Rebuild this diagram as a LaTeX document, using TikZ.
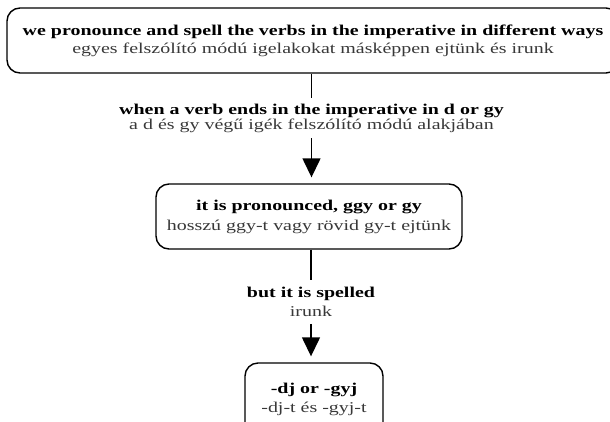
\documentclass[tikz,border=0pt]{standalone}
\usepackage{fontspec}
\setmainfont{Liberation Serif}
\usetikzlibrary{arrows.meta}
\definecolor{subtext}{HTML}{383838}
\tikzset{
  box/.style={draw, line width=1.4pt, rounded corners=13pt, align=center, inner sep=0pt},
  lbl/.style={align=center, inner sep=0pt},
  conn/.style={line width=1.4pt},
  arr/.style={line width=1.4pt, -{Triangle[width=18pt,length=19pt]}, shorten >=6pt},
}
\newcommand{\en}[1]{\scalebox{1.33}[1]{\textbf{#1}}}
\newcommand{\hu}[1]{\scalebox{1.33}[1]{\color{subtext}#1}}
\begin{document}
\begin{tikzpicture}[x=1pt,y=-1pt]
\clip (0,0) rectangle (610,421);
\fill[white] (0,0) rectangle (610,421);
\node[box, minimum width=612pt, minimum height=65pt, font=\fontsize{15}{18}\selectfont]
  (top) at (313,40.5)
  {\en{we pronounce and spell the verbs in the imperative in different ways}\\
   \hu{egyes felszólító módú igelakokat másképpen ejtünk és irunk}};
\node[lbl, font=\fontsize{15}{13}\selectfont, inner ysep=6pt]
  (l1) at (311.5,118)
  {\en{when a verb ends in the imperative in d or gy}\\
   \hu{a d és gy végű igék felszólító módú alakjában}};
\node[box, minimum width=306pt, minimum height=65pt, font=\fontsize{15}{20}\selectfont]
  (mid) at (309,216.5)
  {\en{it is pronounced, ggy or gy}\\
   \hu{hosszú ggy-t vagy rövid gy-t ejtünk}};
\node[lbl, font=\fontsize{15}{19}\selectfont, inner ysep=7pt]
  (l2) at (311,302)
  {\en{but it is spelled}\\
   \hu{irunk}};
\node[box, minimum width=138pt, minimum height=73pt, font=\fontsize{15}{19}\selectfont]
  (bot) at (314,399.5)
  {\en{-dj or -gyj}\\
   \hu{-dj-t és -gyj-t}};
\draw[conn] (top.south -| l1.north) -- (l1.north);
\draw[arr] (l1.south) -- (l1.south |- mid.north);
\draw[conn] (mid.south -| l2.north) -- (l2.north);
\draw[arr] (l2.south) -- (l2.south |- bot.north);
\end{tikzpicture}
\end{document}
